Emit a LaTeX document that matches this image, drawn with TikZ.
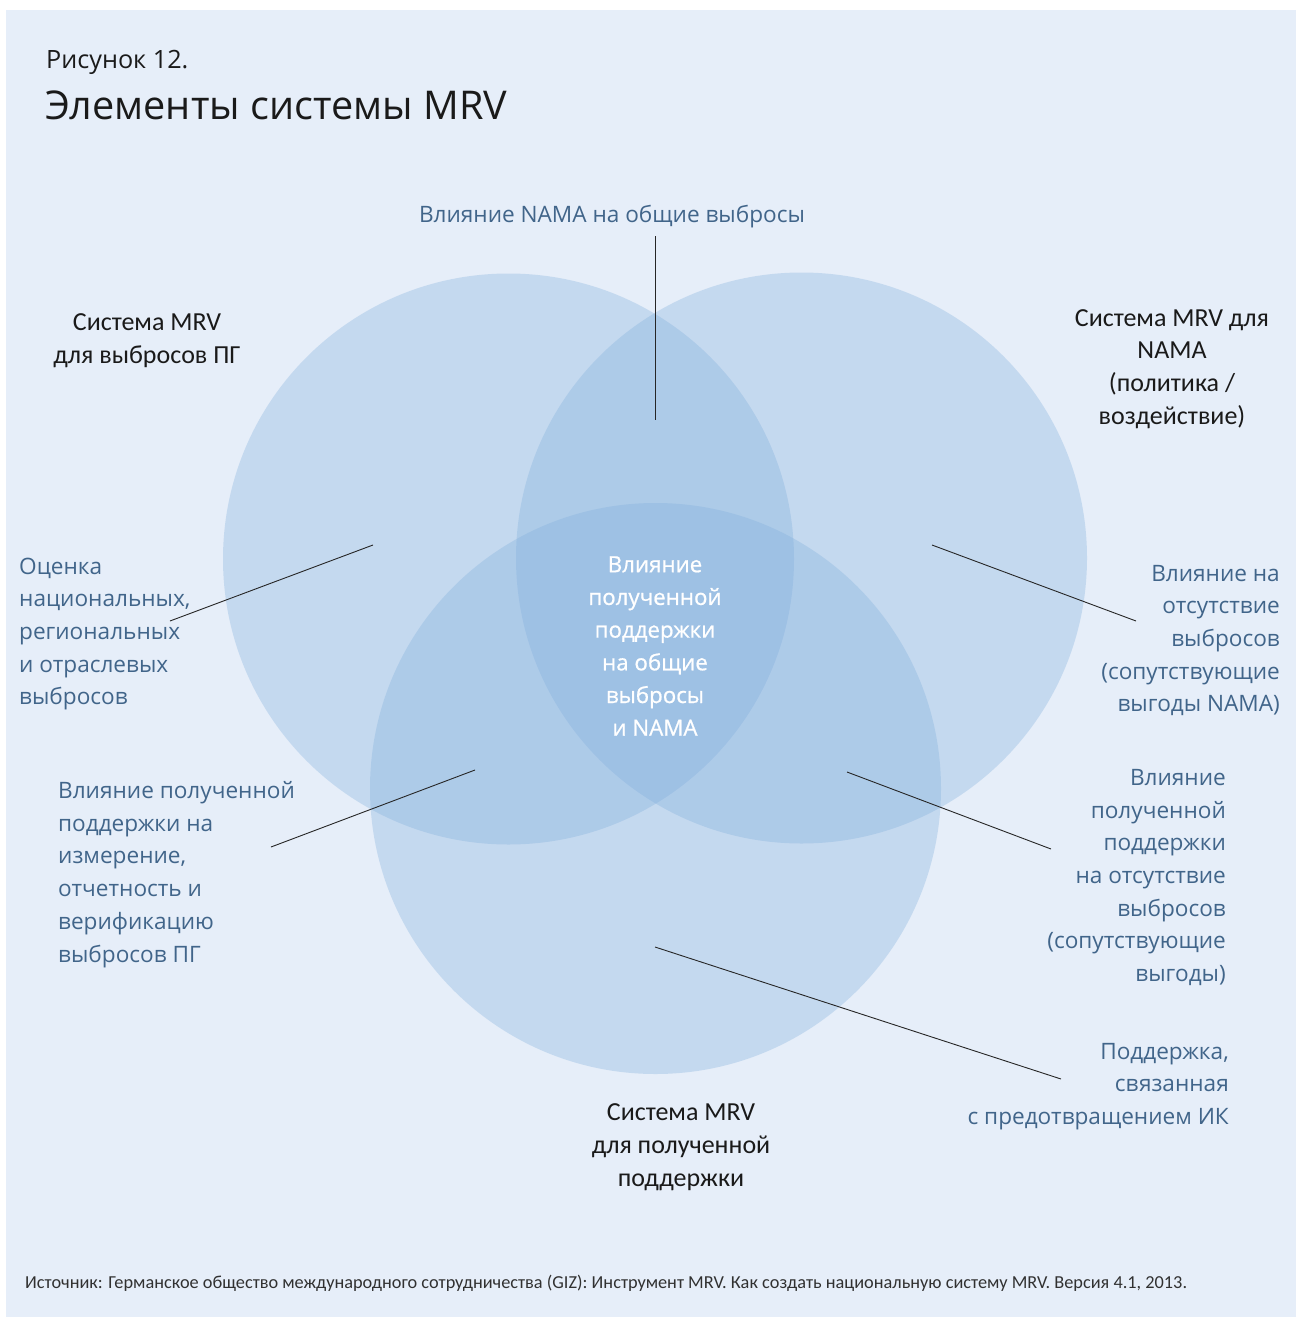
\documentclass[tikz,border=0pt]{standalone}
\usepackage{fontspec}
\setmainfont{Open Sans}
\newfontfamily\calib{Carlito}
\newfontfamily\whitefont[FakeBold=0.8]{Open Sans}
\definecolor{bgc}{HTML}{E6EEF9}
\definecolor{circc}{HTML}{7FAEDC}
\definecolor{bluetxt}{HTML}{41658A}
\definecolor{darktxt}{HTML}{1A1A1A}
\tikzset{
  venn/.style={fill=circc, fill opacity=0.32, draw=none},
  lead/.style={draw=black!85, line width=0.9pt},
  bluelbl/.style={inner sep=0pt, text=bluetxt, font=\fontsize{22.6}{32.7}\selectfont},
  blacklbl/.style={inner sep=0pt, text=darktxt, font=\calib\fontsize{26}{32.7}\selectfont, align=center},
  whitelbl/.style={inner sep=0pt, text=white, font=\whitefont\fontsize{22.3}{32.7}\selectfont, align=center},
}
\begin{document}
\begin{tikzpicture}[x=1pt,y=-1pt]
\useasboundingbox (0,0) rectangle (1296,1317);
\fill[white] (0,0) rectangle (1296,1317);
\fill[bgc] (6,10) rectangle (1296,1317);
% circles
\fill[venn] (508.5,559) circle[radius=285.5];
\fill[venn] (801.5,558) circle[radius=285.5];
\fill[venn] (655.5,788.5) circle[radius=285.5];
% title
\node[anchor=base west, inner sep=0pt, text=darktxt, font=\fontsize{25.2}{30}\selectfont] (fig) at (46,68) {Рисунок 12.};
\node[anchor=base west, inner sep=0pt, text=darktxt, font=\fontsize{39.6}{46}\selectfont] (title) at (45,119) {Элементы системы MRV};
% labels
\node[bluelbl, anchor=center] (top) at (612,216.5) {Влияние NAMA на общие выбросы};
\node[blacklbl] (ghg) at (147,341) {Система MRV\\для выбросов ПГ};
\node[blacklbl] (nama) at (1172,369) {Система MRV для\\NAMA\\(политика /\\воздействие)};
\node[bluelbl, align=left, anchor=west] (natl) at (19,634) {Оценка\\национальных,\\региональных\\и отраслевых\\выбросов};
\node[whitelbl] (center) at (655,646) {Влияние\\полученной\\поддержки\\на общие\\выбросы\\и NAMA};
\node[bluelbl, align=right, anchor=east] (cob) at (1280,640.5) {Влияние на\\отсутствие\\выбросов\\(сопутствующие\\выгоды NAMA)};
\node[bluelbl, align=left, anchor=west] (mrvimp) at (58,874.5) {Влияние полученной\\поддержки на\\измерение,\\отчетность и\\верификацию\\выбросов ПГ};
\node[bluelbl, align=right, anchor=east] (supcob) at (1226,877.5) {Влияние\\полученной\\поддержки\\на отсутствие\\выбросов\\(сопутствующие\\выгоды)};
\node[bluelbl, align=right, anchor=east] (clim) at (1229,1086.5) {Поддержка,\\связанная\\с предотвращением ИК};
\node[blacklbl] (sup) at (681,1147) {Система MRV\\для полученной\\поддержки};
\node[anchor=base west, inner sep=0pt, text=darktxt!90, font=\calib\fontsize{18.3}{22}\selectfont] (src) at (25,1288) {Источник: Германское общество международного сотрудничества (GIZ): Инструмент MRV. Как создать национальную систему MRV. Версия 4.1, 2013.};
% leader coordinates
\coordinate (t1) at (655,236); \coordinate (t2) at (655,420);
\coordinate (l1) at (373,545); \coordinate (l2) at (170,621);
\coordinate (r1) at (932,545); \coordinate (r2) at (1136,621);
\coordinate (ll1) at (475,770); \coordinate (ll2) at (271,847);
\coordinate (rl1) at (847,772); \coordinate (rl2) at (1051,849);
\coordinate (b1) at (655,947); \coordinate (b2) at (1061,1079);
\draw[lead] (t1) -- (t2);
\draw[lead] (l1) -- (l2);
\draw[lead] (r1) -- (r2);
\draw[lead] (ll1) -- (ll2);
\draw[lead] (rl1) -- (rl2);
\draw[lead] (b1) -- (b2);
\end{tikzpicture}
\end{document}
